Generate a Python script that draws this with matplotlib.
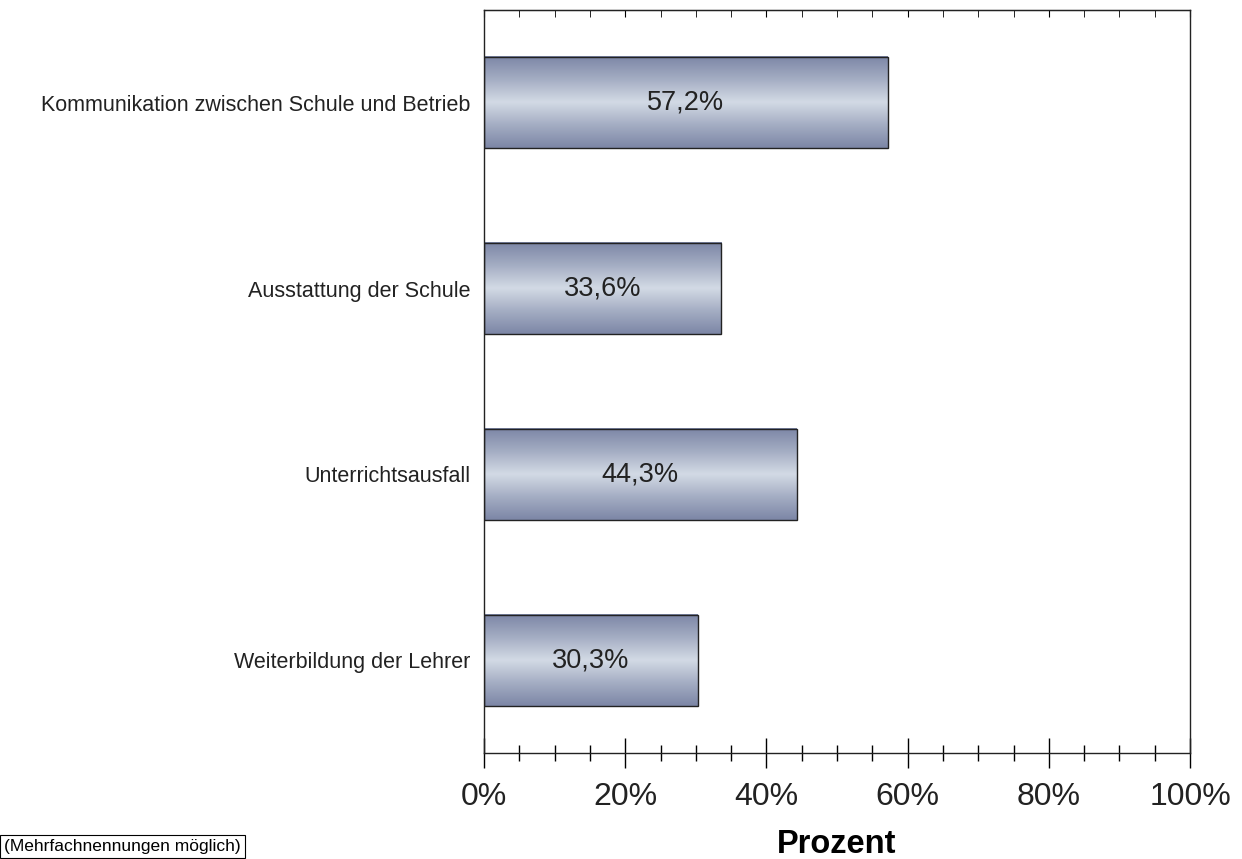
import numpy as np
import matplotlib.pyplot as plt
from matplotlib.colors import LinearSegmentedColormap
from matplotlib.ticker import MultipleLocator

categories = ["Kommunikation zwischen Schule und Betrieb",
              "Ausstattung der Schule",
              "Unterrichtsausfall",
              "Weiterbildung der Lehrer"]
values = [57.2, 33.6, 44.3, 30.3]
labels = ["57,2%", "33,6%", "44,3%", "30,3%"]
xticks = [0, 20, 40, 60, 80, 100]

plt.rcParams['font.family'] = ['Liberation Sans', 'DejaVu Sans']

fig = plt.figure(figsize=(12.42, 8.59), dpi=100)
ax = fig.add_axes([484/1242, 1-753/859, 706/1242, 743/859])

ypos = np.arange(len(categories))
bars = ax.barh(ypos, values, height=0.49, facecolor='none',
               edgecolor='#222222', linewidth=1.0, zorder=3)

cmap = LinearSegmentedColormap.from_list(
    "grad", ["#7c86a6", "#a4adc3", "#d3dae5", "#a4adc3", "#7c86a6"])
grad = np.linspace(0, 1, 256).reshape(-1, 1)
for b, lab in zip(bars, labels):
    x0, y0, w, h = b.get_x(), b.get_y(), b.get_width(), b.get_height()
    ax.imshow(grad, cmap=cmap, aspect='auto', extent=[x0, x0 + w, y0, y0 + h],
              origin='lower', zorder=2, interpolation='bicubic')
    ax.text(x0 + w / 2, y0 + h / 2, lab, ha='center', va='center',
            fontsize=19.5, color='#222222', zorder=4)

ax.set_xlim(0, 100)
ax.set_ylim(len(categories) - 0.5, -0.5)
ax.set_yticks(ypos)
ax.set_yticklabels(categories, fontsize=15.5, color='#222222')
ax.tick_params(axis='y', length=0, pad=10)
ax.set_xticks(xticks)
ax.set_xticklabels([f"{t}%" for t in xticks], fontsize=23, color='#222222')
ax.xaxis.set_minor_locator(MultipleLocator(5))
ax.tick_params(axis='x', which='major', direction='inout', length=22, width=1.0, pad=10)
ax.tick_params(axis='x', which='minor', direction='inout', length=12, width=1.0)
for s in ax.spines.values():
    s.set_linewidth(1.0)
    s.set_color('#222222')

# top ticks: small, inward only
sec = ax.secondary_xaxis('top')
sec.set_xticks(xticks)
sec.xaxis.set_minor_locator(MultipleLocator(5))
sec.tick_params(which='both', direction='in', length=5, labeltop=False)
ax.tick_params(axis='x', which='both', top=False)

ax.set_xlabel("Prozent", fontsize=23.5, fontweight='bold', labelpad=12)

fig.text(4/1242, 1 - 854/859, "(Mehrfachnennungen möglich)", fontsize=12.5,
         ha='left', va='bottom',
         bbox=dict(boxstyle='square,pad=0.25', facecolor='white', edgecolor='black', linewidth=0.8))

fig.savefig("out.png", dpi=100)
